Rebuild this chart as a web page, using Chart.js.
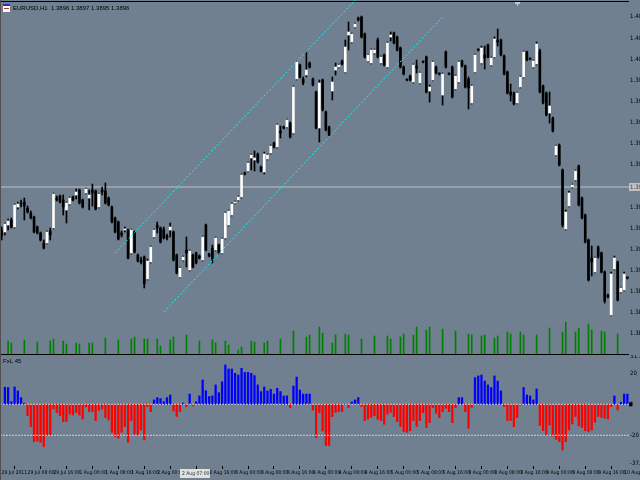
<!DOCTYPE html>
<html>
<head>
<meta charset="utf-8">
<script src="https://cdn.jsdelivr.net/npm/chart.js@4.4.1/dist/chart.umd.min.js"></script>
<style>
  html, body { margin: 0; padding: 0; background: #708090; }
  #wrap { position: relative; width: 640px; height: 480px; overflow: hidden; }
  canvas { position: absolute; left: 0; }
  #main { top: 0; }
  #ind { top: 355px; }
</style>
</head>
<body>
<div id="wrap">
  <canvas id="main" width="640" height="355"></canvas>
  <canvas id="ind" width="640" height="125"></canvas>
</div>
<script>
// Candle data, in points above the floor of the price pane (one 0.0010 step = 21.13 points)
const opens = [
  125,123,130,135,128,148,152,153,147,142,
  138,128,122,112,112,124,127,157,159,155,
  145,151,158,160,165,155,162,157,165,164,
  148,165,164,157,148,137,133,122,125,125,
  102,123,100,95,98,76,93,118,130,127,
  126,119,125,123,100,78,95,105,85,100,
  102,99,95,130,101,107,105,110,102,117,
  130,140,152,155,158,182,184,197,195,201,
  188,183,196,202,212,208,224,228,228,232,
  222,276,290,276,280,292,276,263,227,275,
  243,228,264,285,288,294,283,320,313,328,
  337,338,321,294,292,302,315,292,300,288,
  318,322,318,307,288,275,279,273,289,272,
  293,298,264,275,288,281,260,303,281,288,
  266,273,294,289,276,252,283,305,292,300,
  310,290,298,315,315,299,283,263,262,252,
  268,278,303,296,288,291,304,269,262,242,
  237,200,210,185,126,149,168,175,189,157,
  140,115,97,83,108,102,83,60,40,86,
  93,63,65,77
];
const highs = [
  128,132,136,137,151,153,155,157,149,144,
  139,129,123,115,124,127,162,159,160,160,
  153,158,159,166,166,156,167,165,171,165,
  162,168,172,158,149,138,134,124,128,126,
  126,124,101,98,99,96,109,126,133,128,
  128,121,132,124,101,88,99,118,105,101,
  103,100,119,131,102,110,118,111,117,143,
  145,152,154,159,181,183,193,201,204,202,
  189,203,201,210,213,231,229,229,236,233,
  269,294,291,278,303,293,277,264,275,276,
  244,229,278,292,291,295,315,333,322,332,
  338,339,322,301,306,306,317,299,301,313,
  323,323,319,308,289,276,280,291,295,283,
  294,299,270,294,289,282,282,304,282,289,
  280,294,295,290,278,270,301,306,309,309,
  311,298,318,326,316,300,284,271,263,263,
  279,304,304,297,295,313,306,270,263,263,
  238,210,211,186,145,164,171,185,190,158,
  141,116,109,98,109,103,84,61,83,99,
  94,68,83,78
];
const lows = [
  115,120,125,127,127,146,148,135,142,136,
  122,121,114,106,111,115,126,154,152,140,
  132,150,154,156,151,147,161,145,149,145,
  147,160,151,149,132,122,115,118,123,96,
  101,102,93,91,67,75,92,117,122,112,
  116,115,118,94,81,77,94,88,84,87,
  91,96,94,104,98,92,104,101,101,116,
  129,139,151,154,157,180,183,185,184,192,
  183,181,195,201,207,207,217,226,227,217,
  221,275,277,270,278,287,269,226,213,244,
  224,219,255,280,287,290,282,305,312,327,
  334,317,297,293,291,301,297,291,289,287,
  314,311,304,287,280,274,274,272,282,271,
  292,262,253,274,281,280,250,287,280,257,
  265,272,288,267,246,251,282,304,291,286,
  297,289,297,309,299,280,261,254,250,251,
  267,277,294,295,287,290,262,251,239,232,
  223,199,189,128,125,148,167,174,149,136,
  112,74,79,82,97,82,52,57,39,85,
  54,62,64,76
];
const closes = [
  119,131,134,128,150,151,151,149,143,137,
  123,122,115,107,123,120,161,155,153,148,
  152,157,155,163,152,148,166,160,162,146,
  161,163,152,150,133,123,116,120,126,97,
  125,103,94,93,71,94,108,125,127,113,
  117,117,128,95,82,87,98,102,104,88,
  92,97,118,105,99,96,117,102,116,142,
  144,151,153,158,180,181,192,200,197,193,
  184,201,200,209,208,230,222,227,235,218,
  268,293,278,272,285,288,270,227,272,245,
  225,220,273,288,290,291,308,323,321,331,
  335,318,298,300,305,305,298,298,290,312,
  320,312,305,288,281,275,275,290,287,282,
  293,263,268,293,282,281,281,288,281,258,
  279,293,289,268,267,269,300,305,307,297,
  298,297,316,313,300,281,262,260,251,262,
  278,303,295,296,294,311,263,252,240,249,
  224,209,190,130,143,162,170,184,150,137,
  113,75,93,97,98,83,54,58,81,97,
  55,67,81,77
];
// tick volume (only the bars that show a volume line in the picture)
const volumes = [
  null,null,1400,1200,null,null,null,1500,null,null,
  null,1300,null,null,null,1400,1600,null,null,1400,
  1100,null,null,1200,1100,null,null,1200,1200,null,
  null,null,1700,null,null,null,1500,null,null,null,
  1600,1800,null,null,1600,1600,null,null,1600,900,
  null,null,1500,1800,null,null,null,2000,null,null,
  null,1400,null,null,null,1500,1200,null,null,1400,
  1000,null,null,500,800,null,null,1400,1300,null,
  null,1200,1400,null,null,null,1600,null,null,null,
  2400,null,null,null,1800,2000,null,null,2800,2200,
  null,null,1200,2000,null,null,2100,2000,null,null,
  null,1600,null,null,null,1900,null,null,null,1900,
  1600,null,null,1800,2100,null,null,2000,2800,null,
  null,2500,2800,null,null,null,2600,null,null,null,
  2400,null,null,null,2100,2000,null,null,1900,2000,
  null,null,1700,1900,null,null,2300,2100,null,null,
  2300,2000,null,null,null,2000,null,null,null,2700,
  null,null,null,2300,3300,null,null,2300,2700,null,
  null,3100,2500,null,null,2400,2300,null,null,null,
  2100,null,null,null
];
// oscillator histogram in the lower window
const histogram = [
  0,11.0,10.8,1.7,11.2,8.6,4.3,0.8,-7.3,-14.4,
  -24.1,-23.7,-24.5,-27.3,-19.8,-19.8,-3.0,-5.4,-7.3,-11.2,
  -11.2,-6.3,-6.9,-5.4,-6.9,-9.5,-1.7,-4.7,-4.7,-10.5,
  -3.9,-3.0,-8.6,-10.1,-18.1,-20.8,-21.9,-18.1,-14.4,-24.5,
  -10.5,-19.2,-19.8,-16.6,-23.0,-1.5,-4.7,2.8,4.3,3.7,
  1.7,4.3,6.0,-4.3,-7.9,-4.7,0.8,-1.5,6.6,-1.1,
  1.7,5.4,15.7,8.8,5.0,5.4,12.5,7.5,14.6,25.4,
  22.8,22.8,20.0,18.9,23.2,20.5,20.6,20.0,18.5,12.5,
  8.2,11.2,8.6,9.7,6.6,10.3,8.2,5.4,5.4,-2.1,
  11.8,17.6,9.2,6.6,6.6,6.6,-3.7,-21.5,-5.4,-17.2,
  -26.6,-26.6,-7.9,-5.2,-4.7,-4.7,0,-2.1,1.5,2.8,
  4.3,-1.5,-10.5,-9.5,-8.4,-7.3,-9.7,-10.5,-12.9,-6.3,
  -5.2,-7.9,-11.2,-14.4,-17.6,-18.1,-17.0,-10.5,-14.4,-10.5,
  -5.4,-15.0,-11.8,-2.1,-5.8,-8.6,-4.7,-2.6,-4.7,-11.8,
  -2.1,4.3,4.3,-4.7,-15.5,-2.1,17.2,18.3,18.9,15.0,
  12.5,10.8,18.3,15.0,8.6,-1.5,-10.5,-10.5,-14.4,-8.6,
  -0.5,10.8,6.0,5.4,2.8,9.9,-13.7,-17.0,-19.8,-13.4,
  -20.5,-22.6,-24.1,-29.5,-24.1,-16.6,-12.7,-7.9,-14.0,-15.0,
  -17.0,-17.6,-16.6,-11.6,-7.9,-8.6,-9.0,-9.5,-1.5,5.4,
  -3.7,1.3,6.6,6.6
];

// price axis labels, one per 0.0010 step from the pane floor
const priceLabels = ['', '1.3870', '1.3880', '1.3890', '1.3900', '1.3910', '1.3920', '1.3930',
  '1.3940', '1.3950', '1.3960', '1.3970', '1.3980', '1.3990', '1.4000', '1.4010', '1.4020'];
const priceStep = 21.13;

// objects on the chart: horizontal line and the channel (bar index, points)
const hLineLevel = 168;
const hLineLabel = '1.3940';
const channelUpper = [[35, 102], [136, 447]];
const channelLower = [[50, 43], [136, 338]];

// lower window
const histTicks = [31.2, 20, 0, -20, -37.9];
const histTickLabels = ['31.17', '20', '0', '-20', '-37.86'];
const histLevels = [0, -20];

// time axis, one label every 8 bars
const timeStep = 8;
const timeLabels = ['29 Jul 2011', '29 Jul 08:00', '29 Jul 16:00', '1 Aug 00:00', '1 Aug 08:00',
  '1 Aug 16:00', '2 Aug 00:00', '2 Aug 08:00', '2 Aug 16:00', '3 Aug 00:00', '3 Aug 08:00',
  '3 Aug 16:00', '4 Aug 00:00', '4 Aug 08:00', '4 Aug 16:00', '5 Aug 00:00', '5 Aug 08:00',
  '5 Aug 16:00', '8 Aug 00:00', '8 Aug 08:00', '8 Aug 16:00', '9 Aug 00:00', '9 Aug 08:00',
  '9 Aug 16:00', '10 Aug 00:00'];
const cursorBar = 55;
const cursorLabel = '2 Aug 07:00';

const titleText = 'EURUSD,H1  1.3896 1.3897 1.3895 1.3896';
const windowName = 'FxL 45';

const N = closes.length;
const idx = closes.map((_, i) => i);
const axisFamily = "'Liberation Sans Narrow', 'DejaVu Sans Condensed', 'Liberation Sans', sans-serif";
const AXIS_W = 11;

// draws the frame, title and the highlighted labels of the main window
const mainDecor = {
  id: 'mainDecor',
  afterDraw(chart) {
    const ctx = chart.ctx;
    const area = chart.chartArea;
    ctx.save();
    ctx.fillStyle = '#000000';
    ctx.fillRect(0, 1, area.right, 1);
    ctx.fillRect(0, area.bottom - 1, area.right, 1);
    ctx.fillStyle = '#505050';
    ctx.fillRect(0, 0, 1, area.bottom);
    // window icon
    ctx.fillStyle = '#ffffff';
    ctx.fillRect(3, 4, 7, 8);
    ctx.fillStyle = '#3030c0';
    ctx.fillRect(3, 4, 7, 2);
    ctx.fillStyle = '#c03030';
    ctx.fillRect(4, 8, 5, 1);
    ctx.fillStyle = '#000000';
    ctx.font = "6px 'Liberation Sans', sans-serif";
    ctx.textBaseline = 'middle';
    ctx.fillText(titleText, 13, 8);
    // marker at the top
    ctx.fillStyle = '#c8c8c8';
    ctx.fillRect(515, 2, 5, 2);
    ctx.fillRect(517, 4, 1, 2);
    // highlighted price of the horizontal line
    const y = chart.scales.y.getPixelForValue(hLineLevel);
    ctx.fillStyle = '#c0c0c0';
    ctx.fillRect(area.right, y - 4, AXIS_W, 8);
    ctx.fillStyle = '#404040';
    ctx.font = '6px ' + axisFamily;
    ctx.fillText(hLineLabel, area.right + 1, y);
    ctx.restore();
  }
};

const indDecor = {
  id: 'indDecor',
  afterDraw(chart) {
    const ctx = chart.ctx;
    const area = chart.chartArea;
    ctx.save();
    ctx.fillStyle = '#505050';
    ctx.fillRect(0, 0, 1, chart.height);
    ctx.fillStyle = '#000000';
    ctx.font = "6px 'Liberation Sans', sans-serif";
    ctx.textBaseline = 'middle';
    ctx.fillText(windowName, 3, 6);
    // current value marker on the zero level
    const y0 = chart.scales.y.getPixelForValue(0);
    ctx.fillRect(area.right, y0 - 2, 3, 4);
    // highlighted time label
    const x = chart.scales.x.getPixelForValue(cursorBar);
    ctx.fillStyle = '#e0e0e0';
    ctx.fillRect(x, area.bottom + 3, 30, 9);
    ctx.fillStyle = '#303030';
    ctx.font = '5px ' + axisFamily;
    ctx.fillText(cursorLabel, x + 2, area.bottom + 8);
    ctx.restore();
  }
};

const rightAxisFit = s => { s.width = AXIS_W; s.paddingTop = 0; s.paddingBottom = 0; };

new Chart(document.getElementById('main'), {
  type: 'bar',
  data: {
    datasets: [
      {
        type: 'line', data: [{ x: -0.5, y: hLineLevel }, { x: N - 0.5, y: hLineLevel }],
        borderColor: '#c0c0c0', borderWidth: 1, pointRadius: 0, order: 6
      },
      {
        yAxisID: 'yv', data: idx.map(i => ({ x: i, y: volumes[i] })),
        backgroundColor: '#008000', barThickness: 1, order: 5
      },
      {
        data: idx.map(i => ({ x: i, y: [lows[i], highs[i]] })),
        backgroundColor: '#000000', barThickness: 1, order: 4
      },
      {
        data: idx.map(i => ({ x: i, y: [opens[i], closes[i]] })),
        backgroundColor: idx.map(i => closes[i] > opens[i] ? '#ffffff' : '#000000'),
        barThickness: 2, minBarLength: 1, order: 3
      },
      {
        type: 'line', data: channelUpper.map(p => ({ x: p[0], y: p[1] })),
        borderColor: '#00ffff', borderWidth: 1, borderDash: [2, 2], pointRadius: 0, order: 1
      },
      {
        type: 'line', data: channelLower.map(p => ({ x: p[0], y: p[1] })),
        borderColor: '#00ffff', borderWidth: 1, borderDash: [2, 2], pointRadius: 0, order: 1
      }
    ]
  },
  options: {
    responsive: false,
    animation: false,
    devicePixelRatio: 1,
    layout: { padding: 0 },
    plugins: { legend: { display: false }, tooltip: { enabled: false } },
    datasets: { bar: { grouped: false, borderWidth: 0 } },
    scales: {
      x: {
        type: 'linear', min: -0.5, max: N - 0.5, offset: false,
        afterBuildTicks: s => { s.ticks = [{ value: -0.5 }, { value: N - 0.5 }]; },
        afterFit: s => { s.height = 0; s.paddingLeft = 0; s.paddingRight = 0; },
        ticks: { display: false },
        grid: { display: false, drawTicks: false },
        border: { display: false }
      },
      y: {
        position: 'right', min: 0, max: 355,
        afterBuildTicks: s => { s.ticks = priceLabels.map((_, k) => ({ value: k * priceStep })); },
        afterFit: rightAxisFit,
        ticks: {
          callback: (v, k) => priceLabels[k], autoSkip: false, padding: 1,
          color: '#000000', font: { family: axisFamily, size: 6 }
        },
        grid: { display: false, drawTicks: false },
        border: { display: false }
      },
      yv: { display: false, min: 0, max: 35500 }
    }
  },
  plugins: [mainDecor]
});

new Chart(document.getElementById('ind'), {
  type: 'bar',
  data: {
    datasets: [
      ...histLevels.map(level => ({
        type: 'line', data: [{ x: -0.5, y: level }, { x: N - 0.5, y: level }],
        borderColor: '#d0d0d0', borderWidth: 1, borderDash: [2, 1], pointRadius: 0, order: 0
      })),
      {
        data: idx.map(i => ({ x: i, y: histogram[i] })),
        backgroundColor: histogram.map(v => v >= 0 ? '#0000ff' : '#ff0000'),
        barThickness: 1.6, order: 1
      }
    ]
  },
  options: {
    responsive: false,
    animation: false,
    devicePixelRatio: 1,
    layout: { padding: { top: 1, left: 0, right: 0, bottom: 0 } },
    plugins: { legend: { display: false }, tooltip: { enabled: false } },
    datasets: { bar: { grouped: false, borderWidth: 0 } },
    scales: {
      x: {
        type: 'linear', min: -0.5, max: N - 0.5, position: 'bottom', offset: false,
        afterBuildTicks: s => { s.ticks = timeLabels.map((_, k) => ({ value: k * timeStep })); },
        afterFit: s => { s.height = 14; s.paddingLeft = 0; s.paddingRight = 0; },
        ticks: {
          callback: (v, k) => timeLabels[k], align: 'start', autoSkip: false,
          maxRotation: 0, minRotation: 0, padding: 1, color: '#000000',
          font: { family: axisFamily, size: 5 }
        },
        grid: { drawOnChartArea: false, drawTicks: true, tickLength: 3, color: '#000000' },
        border: { display: false }
      },
      y: {
        position: 'right', min: -39.8, max: 31.16,
        afterBuildTicks: s => { s.ticks = histTicks.map(v => ({ value: v })); },
        afterFit: rightAxisFit,
        ticks: {
          callback: (v, k) => histTickLabels[k], autoSkip: false, padding: 1,
          color: '#000000', font: { family: axisFamily, size: 6 }
        },
        grid: { display: false, drawTicks: false },
        border: { display: false }
      }
    }
  },
  plugins: [indDecor]
});
</script>
</body>
</html>
